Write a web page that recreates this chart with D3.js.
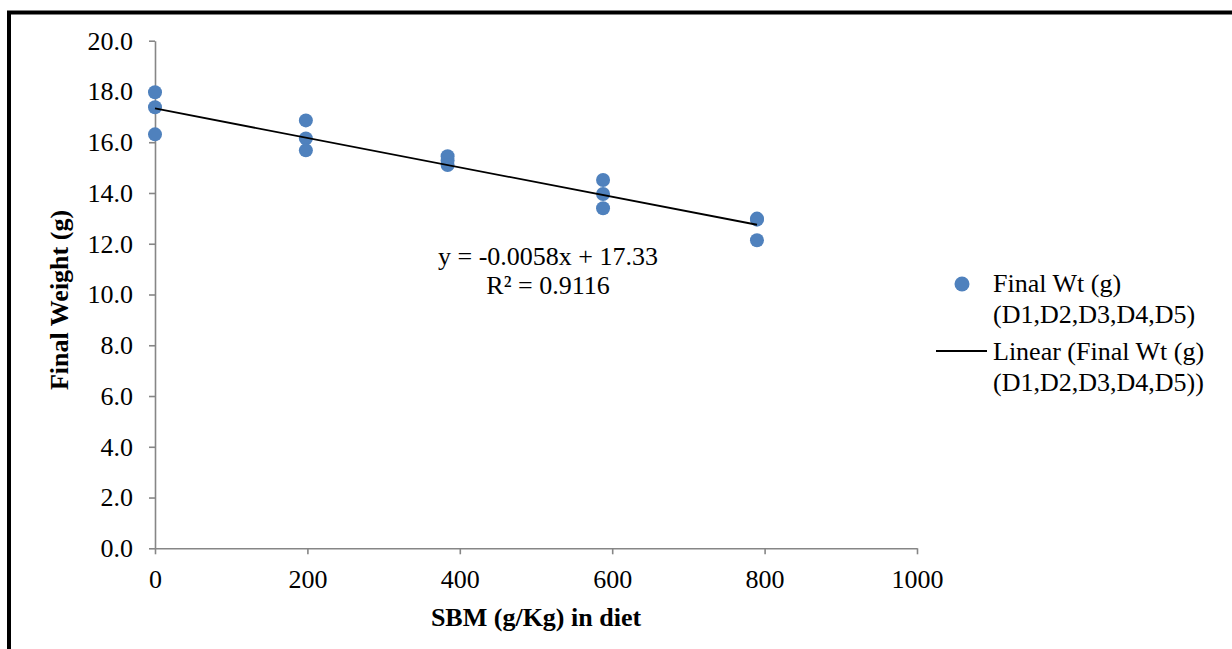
<!DOCTYPE html>
<html>
<head>
<meta charset="utf-8">
<script src="https://cdn.jsdelivr.net/npm/d3@7"></script>
<style>
  body { margin: 0; background: #fff; }
  svg { display: block; font-family: "Liberation Serif", "Times New Roman", serif; }
</style>
</head>
<body>
<div id="chart"></div>
<script>
// SBM inclusion (g/Kg) and final weight (g) for each replicate
var sbmValues    = [0, 0, 0, 198, 198, 198, 384, 384, 384, 588, 588, 588, 790, 790, 790];
var weightValues = [17.97, 17.38, 16.31, 16.86, 16.15, 15.68, 15.45, 15.28, 15.10, 14.51, 13.96, 13.40, 12.99, 12.95, 12.14];

var xTicks = [0, 200, 400, 600, 800, 1000];
var yTicks = [0, 2, 4, 6, 8, 10, 12, 14, 16, 18, 20];

// trendline as printed on the chart
var trendSlope = -0.0058;
var trendIntercept = 17.33;
var equationLines = ["y = -0.0058x + 17.33", "R\u00b2 = 0.9116"];

var legendLabels = [
    ["Final Wt (g)", "(D1,D2,D3,D4,D5)"],
    ["Linear (Final Wt (g)", "(D1,D2,D3,D4,D5))"]
];

var WIDTH = 1232, HEIGHT = 649;
var BLUE = "#4F81BD", AXIS = "#868686";

var svg = d3.select("#chart").append("svg")
    .attr("width", WIDTH)
    .attr("height", HEIGHT);

// outer frame (only top and left are visible in the picture)
svg.append("rect")
    .attr("x", 9).attr("y", 12.5)
    .attr("width", WIDTH + 20).attr("height", HEIGHT + 20)
    .style("fill", "none")
    .style("stroke", "black")
    .style("stroke-width", 4);

var x = d3.scaleLinear().domain([0, 1000]).range([155, 917]);
var y = d3.scaleLinear().domain([0, 20]).range([548.3, 40.7]);

// Y axis
var yAxis = svg.append("g")
    .attr("transform", "translate(" + x(0) + ",0)")
    .call(d3.axisLeft(y).tickValues(yTicks).tickFormat(d3.format(".1f"))
        .tickSize(6).tickSizeOuter(0).tickPadding(16));

// X axis
var xAxis = svg.append("g")
    .attr("transform", "translate(0," + y(0) + ")")
    .call(d3.axisBottom(x).tickValues(xTicks).tickFormat(d3.format("d"))
        .tickSize(6).tickSizeOuter(0).tickPadding(15));

[xAxis, yAxis].forEach(function(a) {
    a.attr("font-family", null);
    a.selectAll("path, line").style("stroke", AXIS).style("stroke-width", 1.6);
    a.selectAll("text")
        .style("font-family", "'Liberation Serif', 'Times New Roman', serif")
        .style("font-size", "26px")
        .style("fill", "black");
});

// Axis titles
svg.append("text")
    .attr("x", 536).attr("y", 626)
    .attr("text-anchor", "middle")
    .style("font-size", "26px").style("font-weight", "bold")
    .text("SBM (g/Kg) in diet");

svg.append("text")
    .attr("transform", "translate(68,300) rotate(-90)")
    .attr("text-anchor", "middle")
    .style("font-size", "26px").style("font-weight", "bold")
    .text("Final Weight (g)");

// Points
var points = sbmValues.map(function(s, i) { return [s, weightValues[i]]; });

svg.selectAll("circle.pt").data(points)
    .enter().append("circle")
    .attr("class", "pt")
    .attr("cx", function(d) { return x(d[0]); })
    .attr("cy", function(d) { return y(d[1]); })
    .attr("r", 7)
    .style("fill", BLUE);

// Linear trendline over the data range
var xExtent = d3.extent(sbmValues);
var trend = d3.line()
    .x(function(d) { return x(d); })
    .y(function(d) { return y(trendSlope * d + trendIntercept); });

svg.append("path")
    .datum(xExtent)
    .attr("d", trend)
    .style("fill", "none")
    .style("stroke", "black")
    .style("stroke-width", 1.8);

// Equation label
svg.selectAll("text.eq").data(equationLines)
    .enter().append("text")
    .attr("class", "eq")
    .attr("x", 548)
    .attr("y", function(d, i) { return 265 + i * 29; })
    .attr("text-anchor", "middle")
    .style("font-size", "26px")
    .text(function(d) { return d; });

// Legend
var legend = svg.append("g");

legend.append("circle")
    .attr("cx", 962).attr("cy", 284).attr("r", 7.5)
    .style("fill", BLUE);

legend.append("line")
    .attr("x1", 936).attr("x2", 987)
    .attr("y1", 351).attr("y2", 351)
    .style("stroke", "black").style("stroke-width", 1.8);

legendLabels.forEach(function(lines, k) {
    lines.forEach(function(t, j) {
        legend.append("text")
            .attr("x", 993)
            .attr("y", 292 + k * 68 + j * 31)
            .style("font-size", "26px")
            .text(t);
    });
});
</script>
</body>
</html>
